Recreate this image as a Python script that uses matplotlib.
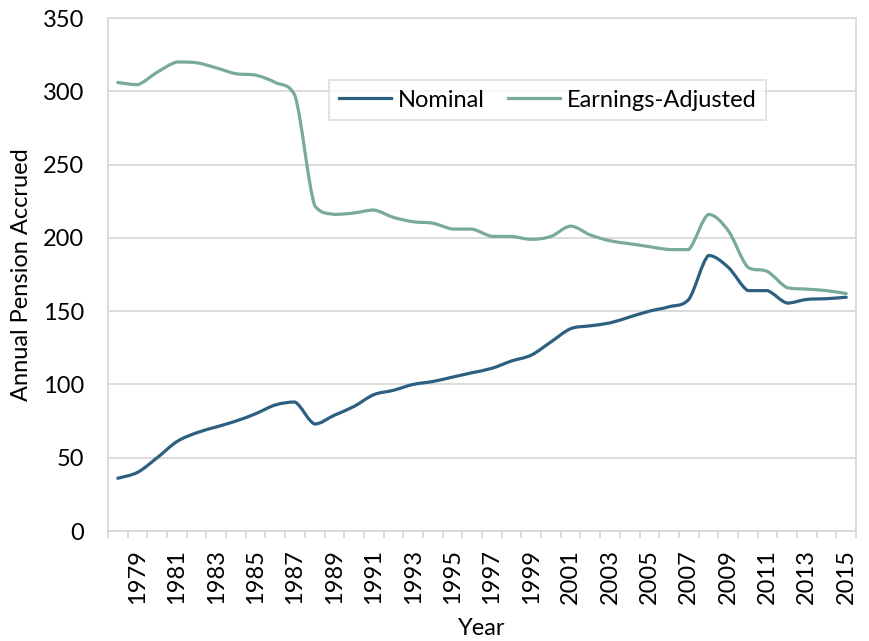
import matplotlib
matplotlib.use("Agg")
import numpy as np
import matplotlib.pyplot as plt
from matplotlib.path import Path
from matplotlib.patches import PathPatch
from matplotlib.lines import Line2D

plt.rcParams["font.family"] = ["Lato", "DejaVu Sans"]

years = list(range(1978, 2016))

nominal = [36, 40, 50, 61, 67, 71, 75, 80, 86, 88, 73, 79, 85, 93,
           96, 100, 102, 105, 108, 111, 116, 120, 129, 138, 140, 142,
           146, 150, 153, 158, 188, 180, 164, 164, 155.5, 158, 158.5, 159.5]

earnings_adjusted = [306, 304.5, 313, 320, 319.5, 316, 312, 311, 306, 297,
                     222, 216, 217, 219, 214, 211, 210, 206, 206, 201,
                     201, 199, 201, 208, 202, 198, 196, 194, 192, 192,
                     216, 205, 180, 177, 166, 165, 164, 162]

tick_labels = [str(y) for y in years if y % 2 == 1]

COLOR_NOM = "#2D5F80"
COLOR_EA = "#7AAA9C"
GRID = "#D9D9D9"
FS = 17


def smooth_path(x, y):
    # curva suavizada: segmentos Bezier cubicos entre los puntos
    x = np.asarray(x, dtype=float)
    y = np.asarray(y, dtype=float)
    n = len(x)
    verts = [(x[0], y[0])]
    codes = [Path.MOVETO]
    for i in range(n - 1):
        x0, y0 = (x[i - 1], y[i - 1]) if i > 0 else (x[i], y[i])
        x3, y3 = (x[i + 2], y[i + 2]) if i + 2 < n else (x[i + 1], y[i + 1])
        lo, hi = min(y[i], y[i + 1]), max(y[i], y[i + 1])
        c1y = np.clip(y[i] + (y[i + 1] - y0) / 6, lo, hi)
        c2y = np.clip(y[i + 1] - (y3 - y[i]) / 6, lo, hi)
        c1 = (x[i] + (x[i + 1] - x0) / 6, c1y)
        c2 = (x[i + 1] - (x3 - x[i]) / 6, c2y)
        verts += [c1, c2, (x[i + 1], y[i + 1])]
        codes += [Path.CURVE4] * 3
    return Path(verts, codes)


fig = plt.figure(figsize=(8.7, 6.41), dpi=100)
ax = fig.add_axes([0.1241, 0.1716, 0.8599, 0.8003])

for serie, color in [(nominal, COLOR_NOM), (earnings_adjusted, COLOR_EA)]:
    patch = PathPatch(smooth_path(years, serie), facecolor="none",
                      edgecolor=color, linewidth=2.3, capstyle="round",
                      joinstyle="round", zorder=3)
    ax.add_patch(patch)

ax.set_xlim(1977.5, 2015.5)
ax.set_ylim(0, 350)
ax.set_yticks(range(0, 351, 50))
ax.yaxis.grid(True, color=GRID, linewidth=1.3)
ax.set_axisbelow(True)

ax.set_xticks([y for y in years if y % 2 == 1])
ax.set_xticklabels(tick_labels, rotation=90)
ax.set_xticks(np.arange(1977.5, 2016, 1), minor=True)
ax.tick_params(axis="x", which="major", length=0, pad=13, labelsize=FS)
ax.tick_params(axis="x", which="minor", length=5, width=1.3, color=GRID)
ax.tick_params(axis="y", length=0, pad=17, labelsize=FS)

for lado in ["left", "right", "top", "bottom"]:
    ax.spines[lado].set_color(GRID)
    ax.spines[lado].set_linewidth(1.3)

ax.set_xlabel("Year", fontsize=FS, labelpad=10)
ax.set_ylabel("Annual Pension Accrued", fontsize=FS, labelpad=8)

handles = [Line2D([0], [0], color=COLOR_NOM, linewidth=2.3),
           Line2D([0], [0], color=COLOR_EA, linewidth=2.3)]
leg = ax.legend(handles, ["Nominal", "Earnings-Adjusted"], ncol=2,
                loc="center", bbox_to_anchor=(0.588, 0.840), fontsize=FS,
                frameon=True, fancybox=False, edgecolor=GRID,
                handlelength=2.2, handletextpad=0.3, columnspacing=1.0,
                borderpad=0.4, borderaxespad=0)
leg.get_frame().set_linewidth(1.3)

fig.savefig("out.png", dpi=100)
